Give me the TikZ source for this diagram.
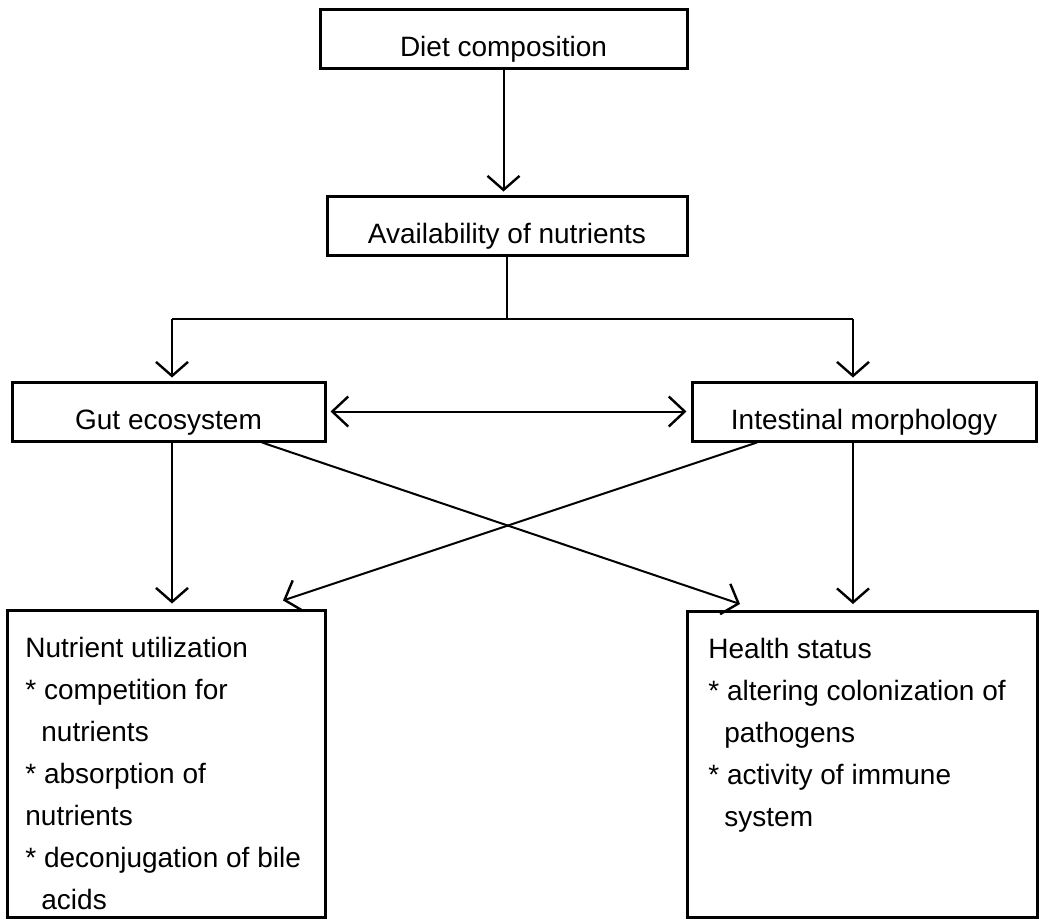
\documentclass[tikz,border=0pt]{standalone}
\usepackage{fontspec}
\setmainfont{Liberation Sans}
\usetikzlibrary{arrows.meta}
\begin{document}
\begin{tikzpicture}[x=0.5pt,y=-0.5pt,
  box/.style={draw, line width=1.5pt, inner sep=0pt, text height=17.5pt, text depth=0pt, font=\fontsize{14}{16}\selectfont},
  bigbox/.style={draw, line width=1.5pt, inner sep=0pt},
  conn/.style={line width=1pt},
  arr/.style={conn, -{Straight Barb[length=7pt,width=16pt,line width=1.2pt]}},
  darr/.style={conn, {Straight Barb[length=8pt,width=15pt,line width=1.2pt]}-{Straight Barb[length=8pt,width=15pt,line width=1.2pt]}},
  list/.style={align=left, inner sep=0pt, font=\fontsize{14}{21}\selectfont, anchor=north west}]
\useasboundingbox (0,0) rectangle (1041,918);
\node[box, minimum width=183.5pt, minimum height=29.5pt] (diet) at (503.5,38.5) {Diet composition};
\node[box, minimum width=180pt, minimum height=29.5pt] (avail) at (507,225.5) {Availability of nutrients};
\node[box, minimum width=156.5pt, minimum height=29.5pt] (gut) at (168.5,411.5) {Gut ecosystem};
\node[box, minimum width=172pt, minimum height=29.5pt] (intest) at (864,411.5) {Intestinal morphology};
\node[bigbox, minimum width=159pt, minimum height=153.5pt] (util) at (166,763.5) {};
\node[bigbox, minimum width=175pt, minimum height=153pt] (health) at (862,764.5) {};
\node[list] (utiltext) at (25,637) {Nutrient utilization\\* competition for\\\hspace*{8pt}nutrients\\* absorption of\\nutrients\\* deconjugation of bile\\\hspace*{8pt}acids};
\node[list] (healthtext) at (708,638) {Health status\\* altering colonization of\\\hspace*{8pt}pathogens\\* activity of immune\\\hspace*{8pt}system};
\coordinate (split) at (507,319);
\coordinate (gl) at (172,319);
\coordinate (gr) at (853,319);
\draw[arr, shorten >=1.5pt] (diet.south) -- (diet.south |- avail.north);
\draw[conn] (avail.south) -- (split);
\draw[conn] (gl) -- (gr);
\draw[arr, shorten >=1.5pt] (gl) -- (gl |- gut.north);
\draw[arr, shorten >=1.5pt] (gr) -- (gr |- intest.north);
\draw[darr, shorten <=2pt, shorten >=2pt] (gut.east) -- (intest.west);
\draw[arr, shorten >=2.5pt] (gl |- gut.south) -- (gl |- util.north);
\draw[arr, shorten >=3pt] (gr |- intest.south) -- (gr |- health.north);
\draw[arr] ([xshift=46.75pt]gut.south) -- ([xshift=-61pt,yshift=3pt]health.north);
\draw[arr] ([xshift=-53.5pt]intest.south) -- ([xshift=58.5pt,yshift=4pt]util.north);
\end{tikzpicture}
\end{document}
